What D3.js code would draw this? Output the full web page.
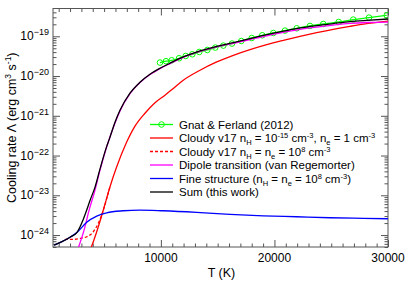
<!DOCTYPE html>
<html>
<head>
<meta charset="utf-8">
<script src="https://cdn.jsdelivr.net/npm/d3@7"></script>
<style>
	body { margin: 0; background: #fff; }
	svg text { font-family: "Liberation Sans", Arial, sans-serif; fill: #000; }
</style>
</head>
<body>
<div id="chart"></div>
<script>
// values: T in K, cooling rate in erg cm^3 s^-1
const gnatT = [9920, 10450, 10950, 11600, 12190, 12770, 13380, 14090, 14790, 15500, 16260, 17080, 18000, 18930, 19900, 20930, 21960, 23130, 24300, 25660, 26940, 28330, 29890]
const gnatL = [2.18e-20, 2.36e-20, 2.49e-20, 2.80e-20, 3.20e-20, 3.53e-20, 4.03e-20, 4.53e-20, 5.20e-20, 5.83e-20, 6.56e-20, 7.62e-20, 9.06e-20, 1.06e-19, 1.21e-19, 1.39e-19, 1.59e-19, 1.82e-19, 2.04e-19, 2.29e-19, 2.63e-19, 2.95e-19, 3.37e-19]

const cloudyLowT = [3850, 3910, 4350, 4930, 5520, 6110, 6930, 7720, 8600, 9480, 10360, 10980, 11970, 13450, 14920, 16380, 17850, 19320, 20780, 22250, 23720, 25180, 26650, 28120, 30000]
const cloudyLowL = [4.8e-25, 5.3e-25, 1.21e-24, 4.25e-24, 1.64e-23, 5.2e-23, 2.0e-22, 5.48e-22, 1.16e-21, 2.13e-21, 3.3e-21, 4.58e-21, 7.84e-21, 1.40e-20, 2.26e-20, 3.33e-20, 4.63e-20, 6.18e-20, 7.92e-20, 1.0e-19, 1.24e-19, 1.50e-19, 1.78e-19, 2.08e-19, 2.42e-19]

const cloudyHighT = [1550, 2290, 2880, 3470, 4050, 4490, 4790, 4930, 5520]
const cloudyHighL = [7.8e-25, 7.8e-25, 8.26e-25, 9.06e-25, 1.21e-24, 1.97e-24, 3.18e-24, 4.25e-24, 1.64e-23]

const dipoleT = [2700, 3320, 3610, 4200, 4640, 5230, 5960, 6400, 7280, 8160, 9040, 9920, 10800, 11970, 13450, 14920, 16380, 17850, 19320, 20780, 22250, 23720, 25180, 26650, 28120, 30000]
const dipoleL = [4.5e-25, 1.62e-24, 3.57e-24, 1.35e-23, 4.3e-23, 1.66e-22, 6.6e-22, 1.33e-21, 3.6e-21, 6.85e-21, 1.09e-20, 1.54e-20, 2.06e-20, 2.96e-20, 4.15e-20, 5.4e-20, 6.65e-20, 8.3e-20, 1.03e-19, 1.25e-19, 1.50e-19, 1.71e-19, 1.91e-19, 2.10e-19, 2.22e-19, 2.28e-19]

const fineT = [600, 1200, 2000, 2600, 3470, 4350, 5230, 6690, 8160, 10210, 13150, 16090, 19020, 21960, 24890, 27830, 30000]
const fineL = [5.6e-25, 6.6e-25, 8.8e-25, 1.15e-24, 2.1e-24, 3.0e-24, 3.63e-24, 4.08e-24, 4.25e-24, 4.08e-24, 3.72e-24, 3.31e-24, 3.05e-24, 2.88e-24, 2.72e-24, 2.63e-24, 2.57e-24]

const sumT = [600, 1200, 2000, 2600, 3170, 3500, 3760, 4200, 4640, 4930, 5230, 5430, 5960, 6400, 7280, 8160, 9040, 9920, 10800, 11970, 13450, 14920, 16380, 17850, 19320, 20780, 22250, 23720, 25180, 26650, 28120, 30000]
const sumL = [5.6e-25, 6.6e-25, 8.8e-25, 1.15e-24, 2.5e-24, 4.5e-24, 7.4e-24, 1.6e-23, 4.6e-23, 9e-23, 1.7e-22, 2.44e-22, 6.9e-22, 1.38e-21, 3.70e-21, 6.98e-21, 1.11e-20, 1.57e-20, 2.10e-20, 3.02e-20, 4.27e-20, 5.61e-20, 6.95e-20, 8.75e-20, 1.10e-19, 1.34e-19, 1.62e-19, 1.86e-19, 2.09e-19, 2.34e-19, 2.52e-19, 2.72e-19]

const xMajor = [10000, 20000, 30000]
const xMinor = [1000, 2000, 3000, 4000, 5000, 6000, 7000, 8000, 9000, 11000, 12000, 13000, 14000, 15000, 16000, 17000, 18000, 19000, 21000, 22000, 23000, 24000, 25000, 26000, 27000, 28000, 29000]
const yExp = [-24, -23, -22, -21, -20, -19]

// sizes
const W = 415, H = 284
const margin = { top: 8.5, right: 27, bottom: 37, left: 53 }
const x0 = margin.left, x1 = W - margin.right
const y0 = H - margin.bottom, y1 = margin.top

const svg = d3.select("#chart")
	.append("svg")
		.attr("width", W)
		.attr("height", H)

const x = d3.scaleLinear().domain([500, 30000]).range([x0, x1])
const y = d3.scaleLog().domain([5e-25, 5e-19]).range([y0, y1])

svg.append("clipPath").attr("id", "clip")
	.append("rect").attr("x", x0).attr("y", y1).attr("width", x1 - x0).attr("height", y0 - y1)

// minor log ticks 2..9 x 10^n inside domain
const yMinor = []
for (let e = -25; e <= -19; e++) {
	for (let m = 2; m <= 9; m++) {
		const v = m * Math.pow(10, e)
		if (v > 5e-25 && v < 5e-19) yMinor.push(v)
	}
}

const tickCol = "#555"
function ticks(axis, tx, ty) {
	const g = svg.append("g").attr("transform", `translate(${tx},${ty})`).call(axis)
	g.select(".domain").remove()
	g.selectAll("line").attr("stroke", tickCol)
	g.selectAll("text").remove()
}
ticks(d3.axisBottom(x).tickValues(xMajor).tickSize(-7), 0, y0)
ticks(d3.axisBottom(x).tickValues(xMinor).tickSize(-3.5), 0, y0)
ticks(d3.axisTop(x).tickValues(xMajor).tickSize(-7), 0, y1)
ticks(d3.axisTop(x).tickValues(xMinor).tickSize(-3.5), 0, y1)
const yMaj = yExp.map(e => Math.pow(10, e))
ticks(d3.axisLeft(y).tickValues(yMaj).tickSize(-7), x0, 0)
ticks(d3.axisLeft(y).tickValues(yMinor).tickSize(-3.5), x0, 0)
ticks(d3.axisRight(y).tickValues(yMaj).tickSize(-7), x1, 0)
ticks(d3.axisRight(y).tickValues(yMinor).tickSize(-3.5), x1, 0)

svg.append("rect")
	.attr("x", x0).attr("y", y1)
	.attr("width", x1 - x0).attr("height", y0 - y1)
	.attr("fill", "none").attr("stroke", tickCol).attr("stroke-width", 1)

// x tick labels
svg.selectAll("text.xt")
	.data(xMajor)
	.join("text")
		.attr("class", "xt")
		.attr("x", d => x(d))
		.attr("y", y0 + 15)
		.attr("text-anchor", "middle")
		.style("font-size", "12px")
		.text(d => d)

// text with sub/superscripts
function rich(sel, parts, size, small, up, down) {
	let cur = 0
	parts.forEach(p => {
		const shift = p[1] === "sup" ? -up : p[1] === "sub" ? down : 0
		sel.append("tspan")
			.attr("dy", shift - cur)
			.style("font-size", (p[1] ? small : size) + "px")
			.text(p[0])
		cur = shift
	})
	return sel
}

// y tick labels
yExp.forEach(e => {
	const t = svg.append("text")
		.attr("x", x0 - 4)
		.attr("y", y(Math.pow(10, e)) + 4)
		.attr("text-anchor", "end")
	rich(t, [["10", ""], ["\u2212" + (-e), "sup"]], 12, 9, 5, 0)
})

// axis titles
svg.append("text")
	.attr("x", (x0 + x1) / 2 + 1)
	.attr("y", 277)
	.attr("text-anchor", "middle")
	.style("font-size", "12.5px")
	.text("T (K)")

const yl = svg.append("text")
	.attr("transform", `translate(16,${(y0 + y1) / 2})rotate(-90)`)
	.attr("text-anchor", "middle")
rich(yl, [["Cooling rate \u039b (erg cm", ""], ["3", "sup"], [" s", ""], ["-1", "sup"], [")", ""]], 12.5, 8.5, 5, 0)

// curves
const line = d3.line()
	.x(d => x(d[0]))
	.y(d => y(d[1]))
	.curve(d3.curveMonotoneX)

const plot = svg.append("g").attr("clip-path", "url(#clip)")
function curve(T, L, col, dash) {
	plot.append("path")
		.datum(T.map((t, i) => [t, L[i]]))
		.attr("d", line)
		.attr("fill", "none")
		.attr("stroke", col)
		.attr("stroke-width", 1.3)
		.attr("stroke-dasharray", dash || null)
}

curve(gnatT, gnatL, "#00ff00")
plot.selectAll("circle.gf")
	.data(gnatT.map((t, i) => [t, gnatL[i]]))
	.join("circle")
		.attr("class", "gf")
		.attr("cx", d => x(d[0]))
		.attr("cy", d => y(d[1]))
		.attr("r", 2.8)
		.attr("fill", "none")
		.attr("stroke", "#00ff00")
		.attr("stroke-width", 1)
curve(cloudyLowT, cloudyLowL, "#ff0000")
curve(cloudyHighT, cloudyHighL, "#ff0000", "3,2")
curve(dipoleT, dipoleL, "#ff00ff")
curve(fineT, fineL, "#0000ff")
curve(sumT, sumL, "#000000")

// legend
const legend = [
	{ col: "#00ff00", mark: true, parts: [["Gnat & Ferland (2012)", ""]] },
	{ col: "#ff0000", parts: [["Cloudy v17 n", ""], ["H", "sub"], [" = 10", ""], ["-15", "sup"], [" cm", ""], ["-3", "sup"], [", n", ""], ["e", "sub"], [" = 1 cm", ""], ["-3", "sup"]] },
	{ col: "#ff0000", dash: "3,2", parts: [["Cloudy v17 n", ""], ["H", "sub"], [" =  n", ""], ["e", "sub"], [" = 10", ""], ["8", "sup"], [" cm", ""], ["-3", "sup"]] },
	{ col: "#ff00ff", parts: [["Dipole transition (van Regemorter)", ""]] },
	{ col: "#0000ff", parts: [["Fine structure (n", ""], ["H", "sub"], [" =  n", ""], ["e", "sub"], [" = 10", ""], ["8", "sup"], [" cm", ""], ["-3", "sup"], [")", ""]] },
	{ col: "#000000", parts: [["Sum (this work)", ""]] }
]
legend.forEach((d, i) => {
	const ly = 124.5 + i * 13.5
	svg.append("line")
		.attr("x1", 150).attr("x2", 173)
		.attr("y1", ly).attr("y2", ly)
		.attr("stroke", d.col)
		.attr("stroke-width", 1.3)
		.attr("stroke-dasharray", d.dash || null)
	if (d.mark) {
		svg.append("circle")
			.attr("cx", 161.5).attr("cy", ly).attr("r", 2.8)
			.attr("fill", "none").attr("stroke", d.col)
	}
	const t = svg.append("text").attr("x", 179).attr("y", ly + 4)
	rich(t, d.parts, 11.5, 7.5, 4, 3)
})
</script>
</body>
</html>
